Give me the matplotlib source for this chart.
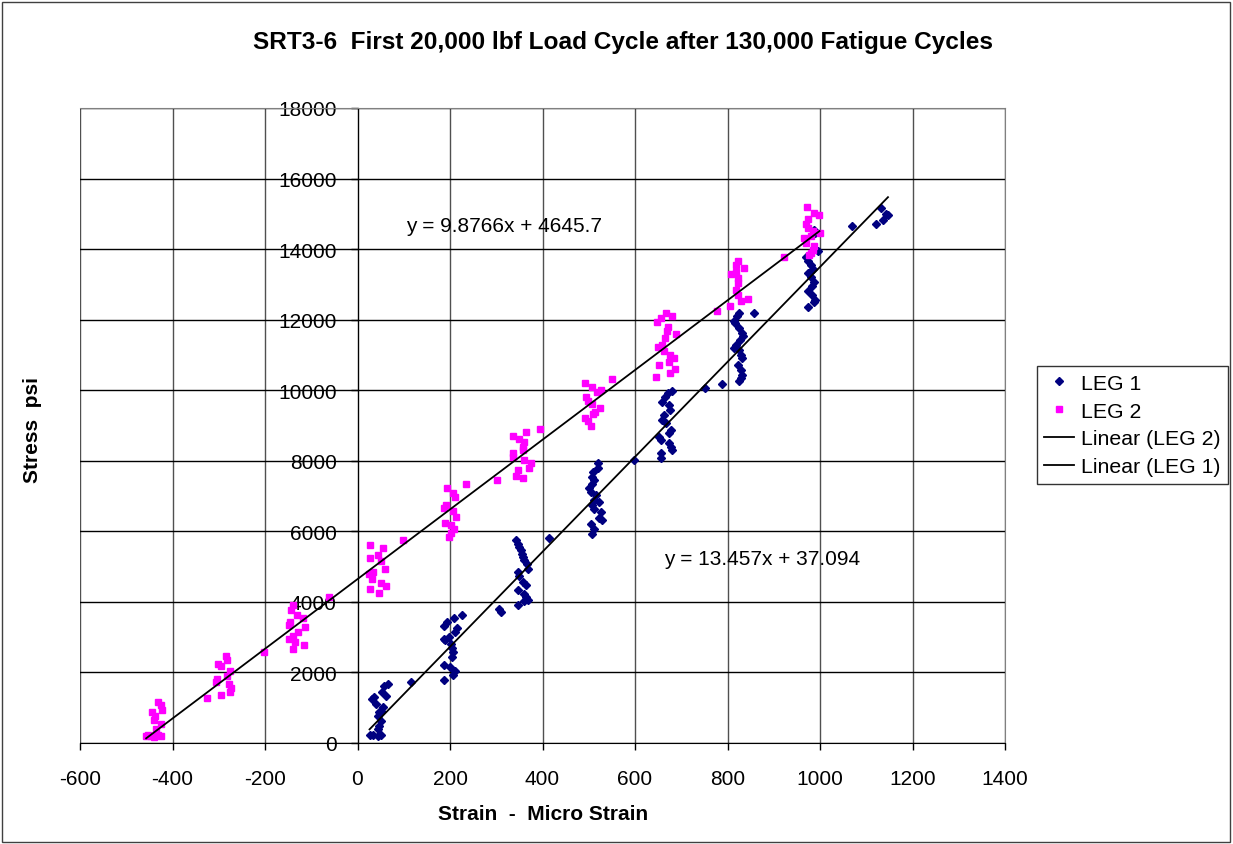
import matplotlib
matplotlib.use('Agg')
from matplotlib import pyplot as plt
from matplotlib.patches import Rectangle
import numpy as np

plt.rcParams['font.family'] = ['Liberation Sans', 'DejaVu Sans']
plt.rcParams['axes.unicode_minus'] = False

# LEG 1 (navy diamonds)
leg1_x = [36, 32, 40, 58, 65, 54, 62, 56, 51, 47, 44, 51, 47, 44, 33, 26, 44, 51, 116,
          227, 208, 193, 187, 216, 211, 186, 197, 190, 202, 204, 206, 204, 188, 200, 210, 206, 186,
          306, 310,
          342, 346, 350, 353, 355, 357, 361, 366, 368, 346, 350, 357, 364, 348, 361, 364, 368, 361, 348,
          413,
          521, 519, 510, 507, 512, 508, 501, 504, 515, 512, 522, 507, 512, 526, 522, 528, 504, 512, 507,
          598,
          680, 672, 665, 659, 674, 676, 663, 659, 667, 677, 674, 652, 656, 674, 677, 681, 656, 656,
          751, 789, 858,
          825, 820, 814, 816, 825, 831, 834, 826, 818, 814, 825, 829, 832, 822, 829, 832, 829, 825,
          987, 990, 996, 969, 973, 980, 985, 975, 980, 987, 983, 975, 983, 990, 987, 973,
          1070, 1131, 1120, 1136, 1147, 1142]
leg1_y = [1297, 1250, 1108, 1629, 1676, 1440, 1345, 1013, 918, 871, 777, 635, 493, 398, 227, 227, 190, 227, 1723,
          3616, 3542, 3429, 3305, 3258, 3144, 2955, 3002, 2907, 2812, 2690, 2576, 2434, 2225, 2150, 2055, 1932, 1799,
          3807, 3712,
          5748, 5653, 5559, 5464, 5369, 5275, 5180, 5066, 4943, 4848, 4735, 4565, 4469, 4327, 4233, 4138, 4043, 4015, 3902,
          5815,
          7926, 7803, 7689, 7547, 7453, 7330, 7216, 7121, 7026, 6884, 6818, 6742, 6629, 6534, 6364, 6316, 6222, 6080, 5938,
          8020,
          9980, 9915, 9820, 9679, 9583, 9441, 9299, 9157, 9063, 8873, 8778, 8684, 8589, 8494, 8400, 8305, 8210, 8087,
          10077, 10170, 12178,
          12188, 12093, 11969, 11903, 11761, 11619, 11524, 11429, 11287, 11193, 11145, 11003, 10909, 10719, 10577, 10435, 10341, 10265,
          14555, 14460, 13940, 13769, 13655, 13560, 13446, 13324, 13200, 13068, 12946, 12804, 12708, 12566, 12500, 12358,
          14650, 15170, 14725, 14838, 14962, 15000]

# LEG 2 (magenta squares)
leg2_x = [-431, -424, -422, -444, -437, -439, -424, -435, -453, -446, -431, -424, -457, -439,
          -284, -302, -295, -283, -275, -304, -307, -283, -277, -273, -275, -295, -325,
          -203,
          -140, -143, -131, -117, -146, -148, -113, -129, -140, -149, -136, -115, -139,
          -62,
          27, 55, 44, 27, 51, 60, 24, 34, 32, 51, 62, 27, 46,
          98,
          193, 235, 206, 211, 191, 188, 206, 213, 190, 202, 209, 202, 197,
          302,
          394, 364, 337, 350, 361, 357, 357, 337, 337, 361, 375, 370, 346, 343, 358,
          492, 507, 526, 517, 495, 498, 508, 524, 514, 510, 492, 498, 505,
          551,
          668, 656, 680, 648, 672, 670, 688, 665, 649, 659, 663, 675, 684, 651, 674, 686, 675, 646,
          778, 922,
          823, 819, 836, 807, 819, 822, 823, 818, 823, 829, 845, 805,
          972, 988, 997, 975, 970, 975, 985, 999, 965, 980, 970, 988, 985, 980, 976]
leg2_y = [1174, 1080, 946, 871, 758, 663, 540, 398, 227, 208, 227, 208, 190, 161,
          2462, 2244, 2178, 2339, 2027, 1818, 1742, 1913, 1676, 1553, 1440, 1364, 1269,
          2576,
          3920, 3759, 3636, 3541, 3428, 3333, 3286, 3144, 3030, 2954, 2859, 2765, 2651,
          4130,
          5625, 5531, 5341, 5247, 5152, 4943, 4801, 4848, 4659, 4545, 4451, 4356, 4242,
          5748,
          7235, 7330, 7074, 6979, 6742, 6667, 6572, 6411, 6250, 6174, 6061, 5966, 5843,
          7453,
          8892, 8807, 8712, 8617, 8523, 8400, 8305, 8210, 8116, 8021, 7926, 7803, 7737, 7576, 7500,
          10199, 10104, 10009, 9943, 9820, 9697, 9602, 9489, 9394, 9318, 9224, 9129, 8996,
          10313,
          12188, 12045, 12093, 11932, 11780, 11666, 11591, 11477, 11212, 11288, 11117, 11003, 10909, 10719, 10795, 10606, 10482, 10388,
          12253, 13769,
          13674, 13542, 13466, 13295, 13352, 13182, 13040, 12850, 12708, 12519, 12595, 12377,
          15190, 15028, 14962, 14867, 14716, 14602, 14508, 14460, 14318, 14366, 14176, 14082, 13986, 13892, 13844]

# trendline coefficients as printed on the chart
fit1 = (13.457, 37.094)
fit2 = (9.8766, 4645.7)
eq1_text = 'y = 13.457x + 37.094'
eq2_text = 'y = 9.8766x + 4645.7'

title = 'SRT3-6  First 20,000 lbf Load Cycle after 130,000 Fatigue Cycles'


def trend(xs, coef):
    x = np.array([min(xs), max(xs)])
    return x, coef[0] * x + coef[1]


def main():
    fig = plt.figure(figsize=(12.33, 8.45), dpi=100)
    ax = fig.add_axes([80 / 1233, 1 - 744 / 845, 925 / 1233, 635 / 845])

    p1, = ax.plot(leg1_x, leg1_y, 'D', color='#000080', markersize=3.6, linestyle='none', label='LEG 1')
    p2, = ax.plot(leg2_x, leg2_y, 's', color='#FF00FF', markersize=4.2, linestyle='none', label='LEG 2')
    tx, ty = trend(leg2_x, fit2)
    l2, = ax.plot(tx, ty, color='k', lw=1.3, label='Linear (LEG 2)')
    tx, ty = trend(leg1_x, fit1)
    l1, = ax.plot(tx, ty, color='k', lw=1.3, label='Linear (LEG 1)')

    ax.text(105, 14660, eq2_text, fontsize=15, va='center')
    ax.text(663, 5230, eq1_text, fontsize=15, va='center')

    ax.set_xlim(-600, 1400)
    ax.set_ylim(0, 18000)
    ax.set_xticks(np.arange(-600, 1401, 200))
    ax.set_yticks(np.arange(0, 18001, 2000))
    ax.xaxis.grid(True, color='#505050', lw=1)
    ax.yaxis.grid(True, color='k', lw=1)
    ax.set_axisbelow(True)

    ax.spines['left'].set_position(('data', 0))
    ax.spines['left'].set_color('k')
    ax.spines['bottom'].set_color('k')
    ax.spines['top'].set_color('#808080')
    ax.spines['right'].set_color('#808080')
    ax.tick_params(axis='both', direction='out', length=5, width=1, labelsize=15)
    ax.tick_params(axis='y', pad=10)
    ax.tick_params(axis='x', pad=14)

    fig.text(0.505, 1 - 42 / 845, title, fontsize=17.6, fontweight='bold', ha='center', va='center')
    fig.text(543 / 1233, 1 - 815 / 845, 'Strain  -  Micro Strain', fontsize=15, fontweight='bold',
             ha='center', va='center')
    fig.text(33 / 1233, 1 - 430 / 845, 'Stress  psi', fontsize=15, fontweight='bold', rotation=90,
             ha='center', va='center')

    leg = fig.legend(handles=[p1, p2, l2, l1], loc='center left', bbox_to_anchor=(1037 / 1233, 1 - 426 / 845),
                     fontsize=15.3, frameon=True, fancybox=False, borderpad=0.35, labelspacing=0.42,
                     handlelength=1.4, handletextpad=0.3, borderaxespad=0)
    leg.get_frame().set_edgecolor('k')
    leg.get_frame().set_linewidth(1)

    fig.patches.append(Rectangle((2 / 1233, 2 / 845), 1228 / 1233, 840 / 845, transform=fig.transFigure,
                                 fill=False, edgecolor='#404040', lw=1))

    fig.savefig('out.png', dpi=100)


if __name__ == '__main__':
    main()
